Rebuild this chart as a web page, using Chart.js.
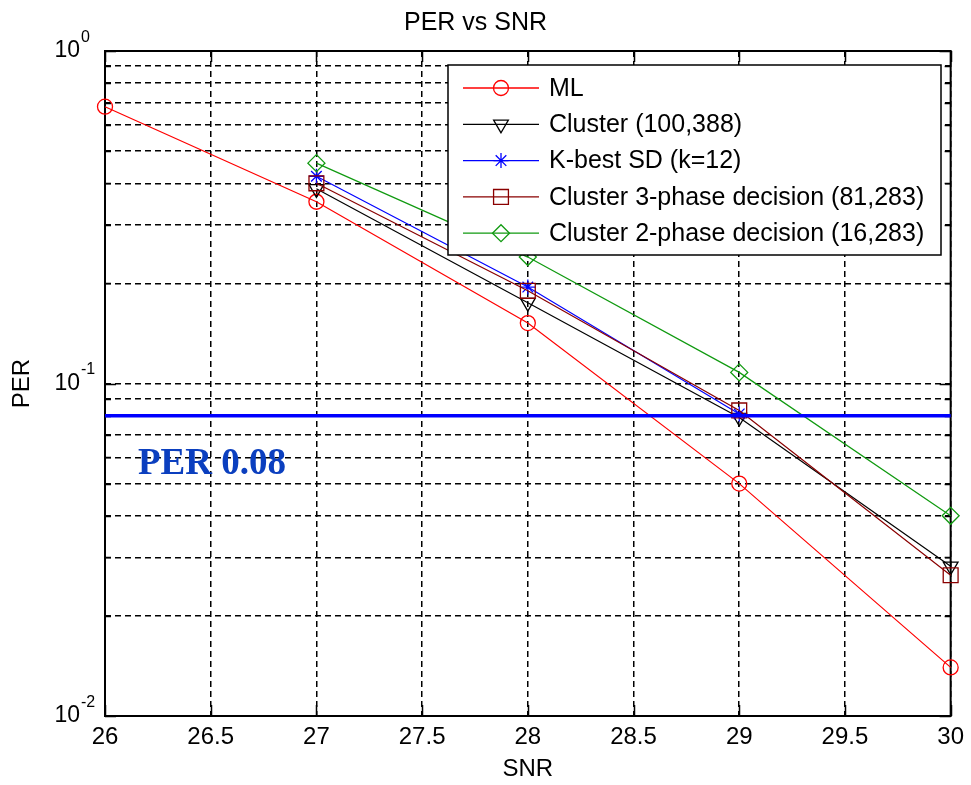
<!DOCTYPE html>
<html>
<head>
<meta charset="utf-8">
<title>PER vs SNR</title>
<script src="https://cdn.jsdelivr.net/npm/chart.js@4/dist/chart.umd.min.js"></script>
<style>
  html, body { margin: 0; padding: 0; background: #ffffff; }
  #wrap { width: 971px; height: 785px; }
</style>
</head>
<body>
<div id="wrap"><canvas id="chart" width="971" height="785"></canvas></div>
<script>
// SNR points (dB)
const snr = [26, 27, 28, 29, 30];

// Packet error rate of each detector
const perML       = [0.68, 0.352, 0.152, 0.050, 0.014];
const perCluster  = [null, 0.385, 0.175, 0.079, 0.0282];
const perKBest    = [null, 0.42,  0.195, 0.081, null];
const perCluster3 = [null, 0.40,  0.19,  0.083, 0.0265];
const perCluster2 = [null, 0.46,  0.24,  0.108, 0.040];

// Target error rate drawn as a horizontal reference line
const perTarget = 0.08;

const seriesNames = [
  'ML',
  'Cluster (100,388)',
  'K-best SD (k=12)',
  'Cluster 3-phase decision (81,283)',
  'Cluster 2-phase decision (16,283)'
];

// Axis ticks
const snrTicks = [26, 26.5, 27, 27.5, 28, 28.5, 29, 29.5, 30];
const perDecades = [1, 0.1, 0.01];

const SANS = '"Liberation Sans", Arial, Helvetica, sans-serif';

function pts(values) {
  return snr.map((x, i) => ({ x: x, y: values[i] }));
}

function series(label, values, color, pointStyle, radius, rotation, order) {
  return {
    label: label,
    data: pts(values),
    borderColor: color,
    backgroundColor: 'rgba(0,0,0,0)',
    borderWidth: 1.2,
    pointStyle: pointStyle,
    pointRadius: radius,
    pointRotation: rotation,
    pointBorderColor: color,
    pointBackgroundColor: 'rgba(0,0,0,0)',
    pointBorderWidth: 1.3,
    tension: 0,
    clip: false,
    order: order,
    inLegend: true
  };
}

const datasets = [
  series(seriesNames[0], perML,       '#ff0000', 'circle',   7.5, 0,   5),
  series(seriesNames[1], perCluster,  '#000000', 'triangle', 8.5, 180, 4),
  series(seriesNames[2], perKBest,    '#0000ff', 'star',     7.5, 0,   3),
  series(seriesNames[3], perCluster3, '#8a0000', 'rect',     10.5, 0,  2),
  series(seriesNames[4], perCluster2, '#109a10', 'rectRot',  8.5, 0,   1),
  {
    label: '',
    data: [{ x: snr[0], y: perTarget }, { x: snr[snr.length - 1], y: perTarget }],
    borderColor: '#0000ff',
    borderWidth: 3.5,
    pointRadius: 0,
    tension: 0,
    clip: false,
    order: 0,
    inLegend: false
  }
];

function isDecade(v) {
  const e = Math.log10(v);
  return Math.abs(e - Math.round(e)) < 1e-9;
}

// Log-axis grid positions: 1..9 times each decade
function logTickValues(min, max) {
  const out = [];
  for (let e = Math.round(Math.log10(min)); e < Math.round(Math.log10(max)); e++) {
    for (let m = 1; m <= 9; m++) out.push(m * Math.pow(10, e));
  }
  out.push(max);
  return out;
}

function drawMarker(ctx, ds, x, y) {
  const opts = {
    pointStyle: ds.pointStyle,
    radius: ds.pointRadius,
    rotation: ds.pointRotation || 0,
    borderWidth: ds.pointBorderWidth
  };
  ctx.save();
  ctx.strokeStyle = ds.pointBorderColor;
  ctx.fillStyle = 'rgba(0,0,0,0)';
  ctx.lineWidth = ds.pointBorderWidth;
  Chart.helpers.drawPoint(ctx, opts, x, y);
  ctx.restore();
}

// Box, inward ticks, decade labels, annotation and legend in the classic axes style
const axesDecor = {
  id: 'axesDecor',
  beforeDatasetsDraw(chart) {
    const { ctx, chartArea: a, scales } = chart;
    const xs = scales.x, ys = scales.y;
    ctx.save();
    ctx.strokeStyle = '#000000';
    ctx.lineWidth = 1.5;
    ctx.setLineDash([]);
    ctx.beginPath();
    ys.ticks.forEach(t => {
      const py = Math.round(ys.getPixelForValue(t.value)) + 0.5;
      const len = isDecade(t.value) ? 11 : 6;
      ctx.moveTo(a.left, py); ctx.lineTo(a.left + len, py);
      ctx.moveTo(a.right, py); ctx.lineTo(a.right - len, py);
    });
    xs.ticks.forEach(t => {
      const px = Math.round(xs.getPixelForValue(t.value)) + 0.5;
      ctx.moveTo(px, a.top); ctx.lineTo(px, a.top + 11);
      ctx.moveTo(px, a.bottom); ctx.lineTo(px, a.bottom - 11);
    });
    ctx.stroke();
    ctx.lineWidth = 2;
    ctx.strokeRect(a.left, a.top, a.right - a.left, a.bottom - a.top);

    // Decade labels 10^n
    ctx.fillStyle = '#000000';
    perDecades.forEach(v => {
      const py = ys.getPixelForValue(v);
      const exp = Math.round(Math.log10(v));
      ctx.font = '23px ' + SANS;
      ctx.textAlign = 'right';
      ctx.textBaseline = 'middle';
      ctx.fillText('10', a.left - 25, py);
      ctx.font = '16px ' + SANS;
      ctx.textAlign = 'left';
      ctx.fillText(String(exp), a.left - 24, py - 13.5);
    });
    ctx.restore();
  },
  afterDatasetsDraw(chart) {
    const { ctx, chartArea: a, scales } = chart;
    const ys = scales.y;
    ctx.save();

    // Target label under the reference line
    ctx.font = 'bold 37px "Liberation Serif", "Times New Roman", serif';
    ctx.fillStyle = '#0b3fbf';
    ctx.textAlign = 'left';
    ctx.textBaseline = 'alphabetic';
    ctx.fillText('PER ' + perTarget.toFixed(2), a.left + 33, ys.getPixelForValue(perTarget) + 58);

    // Legend box
    const box = { left: 448, top: 65, right: 941, bottom: 255 };
    ctx.fillStyle = '#ffffff';
    ctx.fillRect(box.left, box.top, box.right - box.left, box.bottom - box.top);
    ctx.strokeStyle = '#000000';
    ctx.lineWidth = 1.5;
    ctx.strokeRect(box.left, box.top, box.right - box.left, box.bottom - box.top);

    const entries = chart.data.datasets.filter(d => d.inLegend);
    entries.forEach((ds, i) => {
      const y = 88 + i * 36.3;
      ctx.strokeStyle = ds.borderColor;
      ctx.lineWidth = 1.3;
      ctx.beginPath();
      ctx.moveTo(463, y);
      ctx.lineTo(539, y);
      ctx.stroke();
      drawMarker(ctx, ds, 501, y);
      ctx.fillStyle = '#000000';
      ctx.font = '25px ' + SANS;
      ctx.textAlign = 'left';
      ctx.textBaseline = 'middle';
      ctx.fillText(ds.label, 549, y + 1);
    });
    ctx.restore();
  }
};

const gridStyle = { color: '#000000', lineWidth: 1.5, drawTicks: false };

new Chart(document.getElementById('chart'), {
  type: 'line',
  data: { datasets: datasets },
  plugins: [axesDecor],
  options: {
    responsive: false,
    animation: false,
    devicePixelRatio: 1,
    layout: { padding: { left: 0, right: 20, top: 0, bottom: 0 } },
    plugins: {
      legend: { display: false },
      tooltip: { enabled: false },
      title: {
        display: true,
        text: 'PER vs SNR',
        color: '#000000',
        font: { family: SANS, size: 25, weight: 'normal' },
        padding: { top: 8, bottom: 13 }
      }
    },
    scales: {
      x: {
        type: 'linear',
        min: snrTicks[0],
        max: snrTicks[snrTicks.length - 1],
        afterBuildTicks(s) { s.ticks = snrTicks.map(v => ({ value: v })); },
        ticks: {
          color: '#000000',
          font: { family: SANS, size: 24 },
          padding: 7,
          maxRotation: 0,
          autoSkip: false,
          callback: v => String(v)
        },
        grid: gridStyle,
        border: { display: false, dash: [6, 4] },
        title: {
          display: true,
          text: 'SNR',
          color: '#000000',
          font: { family: SANS, size: 24 },
          padding: { top: 0, bottom: 1 }
        },
        afterFit(s) { s.height = 69; }
      },
      y: {
        type: 'logarithmic',
        min: perDecades[perDecades.length - 1],
        max: perDecades[0],
        afterBuildTicks(s) {
          s.ticks = logTickValues(perDecades[perDecades.length - 1], perDecades[0]).map(v => ({ value: v }));
        },
        ticks: { display: false },
        grid: gridStyle,
        border: { display: false, dash: [6, 4] },
        title: {
          display: true,
          text: 'PER',
          color: '#000000',
          font: { family: SANS, size: 24 },
          padding: { top: 8, bottom: 0 }
        },
        afterFit(s) { s.width = 105; }
      }
    }
  }
});
</script>
</body>
</html>
